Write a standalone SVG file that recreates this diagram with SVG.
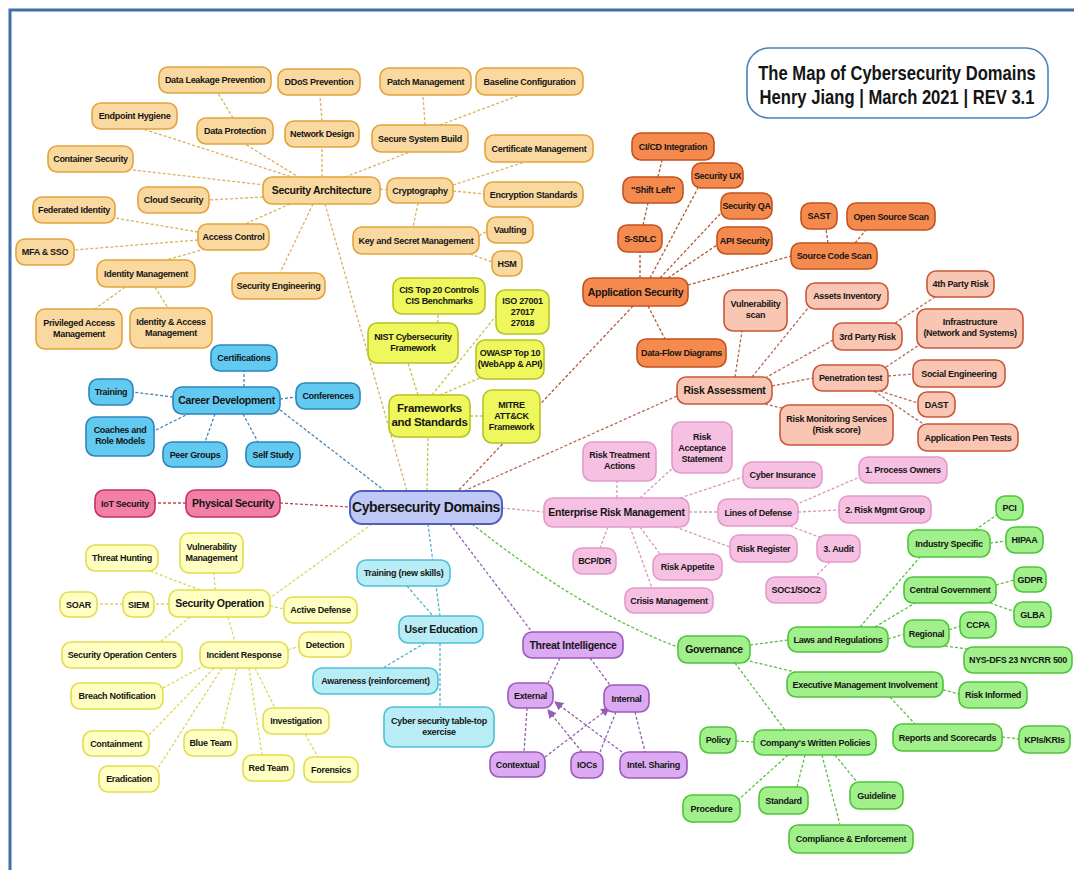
<svg xmlns="http://www.w3.org/2000/svg" width="1074" height="870" viewBox="0 0 1074 870">
<defs>
<style>
rect{rx:9px;ry:9px;stroke-width:1.6}
text{font-family:"Liberation Sans",Arial,sans-serif;font-weight:bold;font-size:9px;letter-spacing:-0.3px;fill:#151515;text-anchor:middle}
.big text{font-size:10.5px}
.sa rect{fill:#FAD9A1;stroke:#E2A43C}
.as rect{fill:#F58A4F;stroke:#C4521F}
.ra rect{fill:#F9C6B3;stroke:#C9573B}
.erm rect{fill:#F6C0E2;stroke:#E39AC9}
.gov rect{fill:#A2F08C;stroke:#4EC43A}
.ti rect{fill:#DCAAF2;stroke:#9A5AB8}
.ue rect{fill:#B8EDF6;stroke:#4DBFD8}
.so rect{fill:#FFFFC4;stroke:#E3DD4C}
.fw rect{fill:#EEF75C;stroke:#B9C224}
.cd rect{fill:#62C9F1;stroke:#2A86BE}
.ps rect{fill:#F27FA5;stroke:#C2345E}
.core rect{fill:#C0C9F6;stroke:#4E5FC0;stroke-width:2}
#connectors line,#connectors path{fill:none;stroke-width:1.3;stroke-dasharray:3 2}
.c-sa{stroke:#D9B35E}.c-as{stroke:#B35A34}.c-ra{stroke:#B86A5A}.c-erm{stroke:#D49ABF}
.c-gov{stroke:#5CC040}.c-ti{stroke:#9460B4}.c-ue{stroke:#52B2CA}.c-so{stroke:#DCD65A}
.c-fw{stroke:#BEC846}.c-cd{stroke:#4A86B4}.c-ps{stroke:#C04848}
.ttl{font-size:16.6px;letter-spacing:0}
</style>
<marker id="arr" viewBox="0 0 8 8" refX="7" refY="4" markerWidth="7" markerHeight="7" orient="auto"><path d="M0,0 L8,4 L0,8 z" fill="#9460B4"/></marker>
</defs>
<rect x="0" y="0" width="1074" height="870" fill="#ffffff" style="rx:0;ry:0"/>
<path d="M10,870 V10 H1074" fill="none" stroke="#3E6FA8" stroke-width="3"/>

<g id="title"><rect x="747" y="48" width="301" height="70" style="rx:22px;ry:22px;fill:#fff;stroke:#4A7FC0;stroke-width:1.6"/>
<text class="ttl" transform="translate(897,80) scale(1,1.2)" x="0" y="0">The Map of Cybersecurity Domains</text>
<text class="ttl" transform="translate(897,104) scale(1,1.2)" x="0" y="0">Henry Jiang | March 2021 | REV 3.1</text></g>

<g id="connectors">
<!-- security architecture -->
<line class="c-sa" x1="300" y1="178" x2="245" y2="144"/>
<line class="c-sa" x1="233" y1="118" x2="218" y2="93"/>
<line class="c-sa" x1="322" y1="177" x2="322" y2="147"/>
<line class="c-sa" x1="322" y1="121" x2="320" y2="96"/>
<line class="c-sa" x1="295" y1="178" x2="143" y2="129"/>
<line class="c-sa" x1="265" y1="185" x2="133" y2="170"/>
<line class="c-sa" x1="263" y1="197" x2="209" y2="200"/>
<line class="c-sa" x1="290" y1="204" x2="245" y2="224"/>
<line class="c-sa" x1="198" y1="232" x2="115" y2="218"/>
<line class="c-sa" x1="198" y1="240" x2="74" y2="250"/>
<line class="c-sa" x1="205" y1="249" x2="163" y2="261"/>
<line class="c-sa" x1="125" y1="287" x2="95" y2="309"/>
<line class="c-sa" x1="155" y1="287" x2="168" y2="308"/>
<line class="c-sa" x1="313" y1="204" x2="280" y2="273"/>
<line class="c-sa" x1="325" y1="204" x2="407" y2="491"/>
<line class="c-sa" x1="380" y1="189" x2="387" y2="190"/>
<line class="c-sa" x1="345" y1="177" x2="410" y2="152"/>
<line class="c-sa" x1="425" y1="125" x2="423" y2="95"/>
<line class="c-sa" x1="440" y1="125" x2="520" y2="95"/>
<line class="c-sa" x1="453" y1="185" x2="525" y2="162"/>
<line class="c-sa" x1="453" y1="191" x2="484" y2="194"/>
<line class="c-sa" x1="418" y1="203" x2="413" y2="227"/>
<line class="c-sa" x1="479" y1="236" x2="487" y2="231"/>
<line class="c-sa" x1="470" y1="254" x2="492" y2="262"/>
<!-- application security -->
<line class="c-as" x1="640" y1="278" x2="640" y2="252"/>
<line class="c-as" x1="643" y1="225" x2="648" y2="203"/>
<line class="c-as" x1="658" y1="177" x2="662" y2="160"/>
<line class="c-as" x1="650" y1="278" x2="698" y2="188"/>
<line class="c-as" x1="660" y1="278" x2="721" y2="213"/>
<line class="c-as" x1="668" y1="278" x2="717" y2="245"/>
<line class="c-as" x1="688" y1="285" x2="791" y2="256"/>
<line class="c-as" x1="828" y1="243" x2="826" y2="229"/>
<line class="c-as" x1="855" y1="243" x2="866" y2="230"/>
<line class="c-as" x1="648" y1="306" x2="665" y2="339"/>
<line class="c-as" x1="633" y1="306" x2="458" y2="491"/>
<!-- risk assessment -->
<line class="c-ra" x1="464" y1="491" x2="677" y2="396"/>
<line class="c-ra" x1="735" y1="377" x2="742" y2="331"/>
<line class="c-ra" x1="752" y1="377" x2="808" y2="308"/>
<line class="c-ra" x1="765" y1="378" x2="833" y2="340"/>
<line class="c-ra" x1="772" y1="386" x2="813" y2="378"/>
<line class="c-ra" x1="765" y1="404" x2="790" y2="410"/>
<line class="c-ra" x1="895" y1="323" x2="935" y2="297"/>
<line class="c-ra" x1="886" y1="367" x2="922" y2="343"/>
<line class="c-ra" x1="888" y1="376" x2="913" y2="374"/>
<line class="c-ra" x1="880" y1="391" x2="918" y2="403"/>
<line class="c-ra" x1="874" y1="391" x2="925" y2="425"/>
<!-- enterprise risk management -->
<line class="c-erm" x1="502" y1="508" x2="544" y2="512"/>
<line class="c-erm" x1="617" y1="498" x2="617" y2="481"/>
<line class="c-erm" x1="640" y1="498" x2="676" y2="465"/>
<line class="c-erm" x1="680" y1="498" x2="743" y2="477"/>
<line class="c-erm" x1="689" y1="512" x2="718" y2="512"/>
<line class="c-erm" x1="675" y1="527" x2="730" y2="547"/>
<line class="c-erm" x1="608" y1="527" x2="600" y2="548"/>
<line class="c-erm" x1="640" y1="527" x2="660" y2="554"/>
<line class="c-erm" x1="630" y1="527" x2="652" y2="588"/>
<line class="c-erm" x1="795" y1="505" x2="862" y2="476"/>
<line class="c-erm" x1="798" y1="512" x2="839" y2="510"/>
<line class="c-erm" x1="790" y1="526" x2="822" y2="538"/>
<line class="c-erm" x1="830" y1="562" x2="815" y2="577"/>
<!-- governance -->
<path class="c-gov" d="M472,524 Q580,610 680,648"/>
<line class="c-gov" x1="750" y1="645" x2="788" y2="640"/>
<line class="c-gov" x1="745" y1="660" x2="795" y2="672"/>
<line class="c-gov" x1="735" y1="663" x2="785" y2="730"/>
<line class="c-gov" x1="860" y1="627" x2="920" y2="557"/>
<line class="c-gov" x1="875" y1="627" x2="915" y2="603"/>
<line class="c-gov" x1="888" y1="639" x2="904" y2="634"/>
<line class="c-gov" x1="949" y1="630" x2="960" y2="626"/>
<line class="c-gov" x1="945" y1="646" x2="975" y2="650"/>
<line class="c-gov" x1="996" y1="585" x2="1014" y2="580"/>
<line class="c-gov" x1="990" y1="603" x2="1016" y2="612"/>
<line class="c-gov" x1="975" y1="530" x2="998" y2="514"/>
<line class="c-gov" x1="990" y1="543" x2="1006" y2="541"/>
<line class="c-gov" x1="943" y1="690" x2="959" y2="694"/>
<line class="c-gov" x1="890" y1="697" x2="915" y2="724"/>
<line class="c-gov" x1="1002" y1="737" x2="1019" y2="739"/>
<line class="c-gov" x1="754" y1="742" x2="736" y2="741"/>
<line class="c-gov" x1="788" y1="755" x2="738" y2="800"/>
<line class="c-gov" x1="805" y1="755" x2="797" y2="787"/>
<line class="c-gov" x1="822" y1="755" x2="840" y2="825"/>
<line class="c-gov" x1="835" y1="755" x2="857" y2="782"/>
<!-- threat intelligence -->
<line class="c-ti" x1="450" y1="524" x2="532" y2="632"/>
<line class="c-ti" x1="560" y1="658" x2="548" y2="683"/>
<line class="c-ti" x1="590" y1="658" x2="610" y2="685"/>
<line class="c-ti" x1="527" y1="708" x2="524" y2="752"/>
<line class="c-ti" x1="616" y1="712" x2="600" y2="752"/>
<line class="c-ti" x1="635" y1="712" x2="645" y2="752"/>
<line class="c-ti" x1="545" y1="757" x2="609" y2="708" marker-end="url(#arr)"/>
<line class="c-ti" x1="582" y1="752" x2="548" y2="710" marker-end="url(#arr)"/>
<line class="c-ti" x1="626" y1="755" x2="555" y2="702" marker-end="url(#arr)"/>
<!-- user education -->
<line class="c-ue" x1="428" y1="524" x2="440" y2="616"/>
<line class="c-ue" x1="407" y1="586" x2="433" y2="616"/>
<line class="c-ue" x1="425" y1="643" x2="383" y2="668"/>
<line class="c-ue" x1="440" y1="643" x2="440" y2="707"/>
<!-- security operation -->
<line class="c-so" x1="372" y1="524" x2="270" y2="598"/>
<line class="c-so" x1="200" y1="590" x2="150" y2="571"/>
<line class="c-so" x1="215" y1="590" x2="214" y2="573"/>
<line class="c-so" x1="169" y1="604" x2="154" y2="604"/>
<line class="c-so" x1="123" y1="604" x2="97" y2="604"/>
<line class="c-so" x1="270" y1="606" x2="284" y2="609"/>
<line class="c-so" x1="190" y1="617" x2="160" y2="642"/>
<line class="c-so" x1="228" y1="617" x2="235" y2="642"/>
<line class="c-so" x1="288" y1="650" x2="299" y2="646"/>
<line class="c-so" x1="205" y1="665" x2="163" y2="688"/>
<line class="c-so" x1="214" y1="668" x2="149" y2="735"/>
<line class="c-so" x1="222" y1="668" x2="158" y2="768"/>
<line class="c-so" x1="237" y1="668" x2="222" y2="730"/>
<line class="c-so" x1="249" y1="668" x2="262" y2="755"/>
<line class="c-so" x1="255" y1="668" x2="275" y2="708"/>
<line class="c-so" x1="305" y1="734" x2="318" y2="757"/>
<!-- frameworks -->
<line class="c-fw" x1="427" y1="491" x2="428" y2="437"/>
<line class="c-fw" x1="418" y1="395" x2="408" y2="363"/>
<line class="c-fw" x1="432" y1="395" x2="496" y2="316"/>
<line class="c-fw" x1="440" y1="395" x2="480" y2="378"/>
<line class="c-fw" x1="470" y1="416" x2="483" y2="416"/>
<line class="c-fw" x1="438" y1="323" x2="438" y2="314"/>
<!-- career development -->
<line class="c-cd" x1="244" y1="387" x2="244" y2="371"/>
<line class="c-cd" x1="173" y1="397" x2="133" y2="392"/>
<line class="c-cd" x1="280" y1="399" x2="296" y2="397"/>
<line class="c-cd" x1="190" y1="413" x2="154" y2="431"/>
<line class="c-cd" x1="215" y1="414" x2="205" y2="442"/>
<line class="c-cd" x1="243" y1="414" x2="258" y2="442"/>
<line class="c-cd" x1="280" y1="410" x2="385" y2="491"/>
<!-- physical security -->
<line class="c-ps" x1="186" y1="503" x2="155" y2="503"/>
<line class="c-ps" x1="280" y1="503" x2="350" y2="507"/>
</g>

<g id="core" class="core"><rect x="350" y="491" width="152" height="33" style="rx:12px;ry:12px"/><text x="426" y="512" style="font-size:14px;letter-spacing:-0.4px">Cybersecurity Domains</text></g>

<!-- Security Architecture branch -->
<g id="n-sa" class="sa big"><rect x="263" y="177" width="117" height="27"/><text x="321.5" y="194">Security Architecture</text></g>
<g id="n-dlp" class="sa"><rect x="159" y="67" width="112" height="26"/><text x="215" y="83">Data Leakage Prevention</text></g>
<g id="n-ddos" class="sa"><rect x="278" y="69" width="82" height="26"/><text x="319" y="85">DDoS Prevention</text></g>
<g id="n-endpoint" class="sa"><rect x="92" y="103" width="85" height="26"/><text x="134.5" y="119">Endpoint Hygiene</text></g>
<g id="n-dataprot" class="sa"><rect x="197" y="118" width="76" height="26"/><text x="235" y="134">Data Protection</text></g>
<g id="n-netdesign" class="sa"><rect x="285" y="121" width="74" height="26"/><text x="322" y="137">Network Design</text></g>
<g id="n-container" class="sa"><rect x="48" y="146" width="85" height="26"/><text x="90.5" y="162">Container Security</text></g>
<g id="n-cloud" class="sa"><rect x="138" y="187" width="71" height="26"/><text x="173.5" y="203">Cloud Security</text></g>
<g id="n-federated" class="sa"><rect x="33" y="197" width="82" height="26"/><text x="74" y="213">Federated Identity</text></g>
<g id="n-access" class="sa"><rect x="198" y="224" width="71" height="26"/><text x="233.5" y="240">Access Control</text></g>
<g id="n-mfa" class="sa"><rect x="16" y="239" width="58" height="26"/><text x="45" y="255">MFA &amp; SSO</text></g>
<g id="n-idm" class="sa"><rect x="97" y="260" width="98" height="27"/><text x="146" y="277">Identity Management</text></g>
<g id="n-seceng" class="sa"><rect x="232" y="273" width="93" height="26"/><text x="278.5" y="289">Security Engineering</text></g>
<g id="n-pam" class="sa"><rect x="36" y="309" width="86" height="40"/><text x="79" y="326">Privileged Access<tspan x="79" dy="11">Management</tspan></text></g>
<g id="n-iam" class="sa"><rect x="130" y="308" width="82" height="40"/><text x="171" y="325">Identity &amp; Access<tspan x="171" dy="11">Management</tspan></text></g>
<g id="n-patch" class="sa"><rect x="380" y="68" width="91" height="27"/><text x="425.5" y="85">Patch Management</text></g>
<g id="n-baseline" class="sa"><rect x="476" y="68" width="107" height="27"/><text x="529.5" y="85">Baseline Configuration</text></g>
<g id="n-ssb" class="sa"><rect x="372" y="125" width="96" height="27"/><text x="420" y="142">Secure System Build</text></g>
<g id="n-cert" class="sa"><rect x="485" y="135" width="108" height="27"/><text x="539" y="152">Certificate Management</text></g>
<g id="n-crypto" class="sa"><rect x="387" y="178" width="66" height="25"/><text x="420" y="194">Cryptography</text></g>
<g id="n-enc" class="sa"><rect x="484" y="182" width="99" height="25"/><text x="533.5" y="198">Encryption Standards</text></g>
<g id="n-vault" class="sa"><rect x="487" y="217" width="46" height="26"/><text x="510" y="233">Vaulting</text></g>
<g id="n-ksm" class="sa"><rect x="353" y="227" width="126" height="27"/><text x="416" y="244">Key and Secret Management</text></g>
<g id="n-hsm" class="sa"><rect x="492" y="251" width="30" height="25"/><text x="507" y="267">HSM</text></g>

<!-- Application Security branch -->
<g id="n-appsec" class="as big"><rect x="583" y="278" width="105" height="28"/><text x="635.5" y="296">Application Security</text></g>
<g id="n-cicd" class="as"><rect x="632" y="133" width="82" height="27"/><text x="673" y="150">CI/CD Integration</text></g>
<g id="n-secux" class="as"><rect x="692" y="163" width="51" height="25"/><text x="717.5" y="179">Security UX</text></g>
<g id="n-shift" class="as"><rect x="623" y="177" width="60" height="26"/><text x="653" y="193">"Shift Left"</text></g>
<g id="n-secqa" class="as"><rect x="721" y="193" width="51" height="26"/><text x="746.5" y="209">Security QA</text></g>
<g id="n-ssdlc" class="as"><rect x="618" y="225" width="44" height="27"/><text x="640" y="242">S-SDLC</text></g>
<g id="n-api" class="as"><rect x="717" y="227" width="55" height="27"/><text x="744.5" y="244">API Security</text></g>
<g id="n-sast" class="as"><rect x="801" y="203" width="36" height="26"/><text x="819" y="219">SAST</text></g>
<g id="n-oss" class="as"><rect x="847" y="203" width="88" height="27"/><text x="891" y="220">Open Source Scan</text></g>
<g id="n-scs" class="as"><rect x="791" y="243" width="86" height="26"/><text x="834" y="259">Source Code Scan</text></g>
<g id="n-dfd" class="as"><rect x="637" y="339" width="89" height="28"/><text x="681.5" y="356">Data-Flow Diagrams</text></g>

<!-- Risk Assessment branch -->
<g id="n-ra" class="ra big"><rect x="677" y="377" width="95" height="27"/><text x="724.5" y="394">Risk Assessment</text></g>
<g id="n-vscan" class="ra"><rect x="724" y="290" width="63" height="41"/><text x="755.5" y="307">Vulnerability<tspan x="755.5" dy="11">scan</tspan></text></g>
<g id="n-assets" class="ra"><rect x="806" y="283" width="82" height="26"/><text x="847" y="299">Assets Inventory</text></g>
<g id="n-4th" class="ra"><rect x="927" y="271" width="67" height="26"/><text x="960.5" y="287">4th Party Risk</text></g>
<g id="n-3rd" class="ra"><rect x="833" y="323" width="69" height="27"/><text x="867.5" y="340">3rd Party Risk</text></g>
<g id="n-infra" class="ra"><rect x="917" y="309" width="106" height="39"/><text x="970" y="325">Infrastructure<tspan x="970" dy="11">(Network and Systems)</tspan></text></g>
<g id="n-pentest" class="ra"><rect x="813" y="365" width="75" height="26"/><text x="850.5" y="381">Penetration test</text></g>
<g id="n-social" class="ra"><rect x="913" y="360" width="92" height="27"/><text x="959" y="377">Social Engineering</text></g>
<g id="n-dast" class="ra"><rect x="918" y="392" width="37" height="25"/><text x="936.5" y="408">DAST</text></g>
<g id="n-rms" class="ra"><rect x="780" y="405" width="113" height="40"/><text x="836.5" y="422">Risk Monitoring Services<tspan x="836.5" dy="11">(Risk score)</tspan></text></g>
<g id="n-apt" class="ra"><rect x="918" y="424" width="100" height="27"/><text x="968" y="441">Application Pen Tests</text></g>

<!-- Enterprise Risk Management branch -->
<g id="n-erm" class="erm big"><rect x="544" y="498" width="145" height="29"/><text x="616.5" y="516">Enterprise Risk Management</text></g>
<g id="n-rta" class="erm"><rect x="583" y="442" width="73" height="39"/><text x="619.5" y="458">Risk Treatment<tspan x="619.5" dy="11">Actions</tspan></text></g>
<g id="n-ras" class="erm"><rect x="672" y="422" width="60" height="51"/><text x="702" y="439.5">Risk<tspan x="702" dy="11">Acceptance</tspan><tspan x="702" dy="11">Statement</tspan></text></g>
<g id="n-cyberins" class="erm"><rect x="743" y="462" width="79" height="26"/><text x="782.5" y="478">Cyber Insurance</text></g>
<g id="n-lod" class="erm"><rect x="718" y="499" width="80" height="27"/><text x="758" y="516">Lines of Defense</text></g>
<g id="n-bcp" class="erm"><rect x="573" y="548" width="43" height="26"/><text x="594.5" y="564">BCP/DR</text></g>
<g id="n-rr" class="erm"><rect x="730" y="535" width="67" height="27"/><text x="763.5" y="552">Risk Register</text></g>
<g id="n-audit" class="erm"><rect x="817" y="535" width="43" height="27"/><text x="838.5" y="552">3. Audit</text></g>
<g id="n-appetite" class="erm"><rect x="653" y="554" width="69" height="26"/><text x="687.5" y="570">Risk Appetite</text></g>
<g id="n-soc12" class="erm"><rect x="766" y="577" width="60" height="26"/><text x="796" y="593">SOC1/SOC2</text></g>
<g id="n-crisis" class="erm"><rect x="625" y="588" width="88" height="25"/><text x="669" y="604">Crisis Management</text></g>
<g id="n-po" class="erm"><rect x="859" y="457" width="88" height="26"/><text x="903" y="473">1. Process Owners</text></g>
<g id="n-rmg" class="erm"><rect x="839" y="496" width="92" height="27"/><text x="885" y="513">2. Risk Mgmt Group</text></g>

<!-- Governance branch -->
<g id="n-gov" class="gov big"><rect x="678" y="636" width="72" height="27"/><text x="714" y="653">Governance</text></g>
<g id="n-laws" class="gov"><rect x="788" y="627" width="100" height="25"/><text x="838" y="643">Laws and Regulations</text></g>
<g id="n-industry" class="gov"><rect x="908" y="530" width="82" height="27"/><text x="949" y="547">Industry Specific</text></g>
<g id="n-pci" class="gov"><rect x="996" y="496" width="27" height="24"/><text x="1009.5" y="511">PCI</text></g>
<g id="n-hipaa" class="gov"><rect x="1006" y="527" width="37" height="26"/><text x="1024.5" y="543">HIPAA</text></g>
<g id="n-central" class="gov"><rect x="904" y="577" width="92" height="26"/><text x="950" y="593">Central Government</text></g>
<g id="n-gdpr" class="gov"><rect x="1014" y="567" width="32" height="25"/><text x="1030" y="583">GDPR</text></g>
<g id="n-glba" class="gov"><rect x="1014" y="602" width="37" height="25"/><text x="1032.5" y="618">GLBA</text></g>
<g id="n-regional" class="gov"><rect x="904" y="620" width="45" height="27"/><text x="926.5" y="637">Regional</text></g>
<g id="n-ccpa" class="gov"><rect x="960" y="612" width="36" height="26"/><text x="978" y="628">CCPA</text></g>
<g id="n-nys" class="gov"><rect x="964" y="647" width="108" height="26"/><text x="1018" y="663">NYS-DFS 23 NYCRR 500</text></g>
<g id="n-exec" class="gov"><rect x="787" y="672" width="156" height="25"/><text x="865" y="688">Executive Management Involvement</text></g>
<g id="n-riskinf" class="gov"><rect x="959" y="682" width="68" height="26"/><text x="993" y="698">Risk Informed</text></g>
<g id="n-reports" class="gov"><rect x="893" y="724" width="109" height="27"/><text x="947.5" y="741">Reports and Scorecards</text></g>
<g id="n-kpis" class="gov"><rect x="1019" y="726" width="51" height="27"/><text x="1044.5" y="743">KPIs/KRIs</text></g>
<g id="n-cwp" class="gov"><rect x="754" y="730" width="122" height="25"/><text x="815" y="746">Company's Written Policies</text></g>
<g id="n-policy" class="gov"><rect x="700" y="727" width="36" height="26"/><text x="718" y="743">Policy</text></g>
<g id="n-procedure" class="gov"><rect x="683" y="795" width="57" height="27"/><text x="711.5" y="812">Procedure</text></g>
<g id="n-standard" class="gov"><rect x="759" y="787" width="49" height="27"/><text x="783.5" y="804">Standard</text></g>
<g id="n-guideline" class="gov"><rect x="850" y="782" width="53" height="27"/><text x="876.5" y="799">Guideline</text></g>
<g id="n-compliance" class="gov"><rect x="789" y="825" width="124" height="28"/><text x="851" y="842">Compliance &amp; Enforcement</text></g>

<!-- Threat Intelligence branch -->
<g id="n-ti" class="ti big"><rect x="523" y="632" width="100" height="26"/><text x="573" y="649">Threat Intelligence</text></g>
<g id="n-external" class="ti"><rect x="508" y="683" width="45" height="25"/><text x="530.5" y="699">External</text></g>
<g id="n-internal" class="ti"><rect x="604" y="685" width="45" height="27"/><text x="626.5" y="702">Internal</text></g>
<g id="n-contextual" class="ti"><rect x="490" y="752" width="55" height="25"/><text x="517.5" y="768">Contextual</text></g>
<g id="n-iocs" class="ti"><rect x="571" y="752" width="32" height="26"/><text x="587" y="768">IOCs</text></g>
<g id="n-intel" class="ti"><rect x="620" y="752" width="67" height="26"/><text x="653.5" y="768">Intel. Sharing</text></g>

<!-- User Education branch -->
<g id="n-ue" class="ue big"><rect x="399" y="616" width="84" height="27"/><text x="441" y="633">User Education</text></g>
<g id="n-trainnew" class="ue"><rect x="357" y="560" width="93" height="26"/><text x="403.5" y="576">Training (new skills)</text></g>
<g id="n-awareness" class="ue"><rect x="313" y="668" width="125" height="26"/><text x="375.5" y="684">Awareness (reinforcement)</text></g>
<g id="n-tabletop" class="ue"><rect x="384" y="707" width="110" height="40"/><text x="439" y="724">Cyber security table-top<tspan x="439" dy="11">exercise</tspan></text></g>

<!-- Security Operation branch -->
<g id="n-so" class="so big"><rect x="169" y="590" width="101" height="27"/><text x="219.5" y="607">Security Operation</text></g>
<g id="n-hunting" class="so"><rect x="86" y="545" width="72" height="26"/><text x="122" y="561">Threat Hunting</text></g>
<g id="n-vulnmgmt" class="so"><rect x="180" y="533" width="63" height="40"/><text x="211.5" y="550">Vulnerability<tspan x="211.5" dy="11">Management</tspan></text></g>
<g id="n-soar" class="so"><rect x="60" y="592" width="37" height="25"/><text x="78.5" y="608">SOAR</text></g>
<g id="n-siem" class="so"><rect x="123" y="592" width="31" height="25"/><text x="138.5" y="608">SIEM</text></g>
<g id="n-active" class="so"><rect x="284" y="597" width="73" height="26"/><text x="320.5" y="613">Active Defense</text></g>
<g id="n-detection" class="so"><rect x="299" y="632" width="52" height="25"/><text x="325" y="648">Detection</text></g>
<g id="n-socc" class="so"><rect x="62" y="642" width="120" height="26"/><text x="122" y="658">Security Operation Centers</text></g>
<g id="n-ir" class="so"><rect x="200" y="642" width="88" height="26"/><text x="244" y="658">Incident Response</text></g>
<g id="n-breach" class="so"><rect x="71" y="683" width="92" height="26"/><text x="117" y="699">Breach Notification</text></g>
<g id="n-invest" class="so"><rect x="263" y="708" width="66" height="26"/><text x="296" y="724">Investigation</text></g>
<g id="n-contain" class="so"><rect x="83" y="731" width="66" height="25"/><text x="116" y="747">Containment</text></g>
<g id="n-blue" class="so"><rect x="184" y="730" width="53" height="26"/><text x="210.5" y="746">Blue Team</text></g>
<g id="n-red" class="so"><rect x="243" y="755" width="51" height="26"/><text x="268.5" y="771">Red Team</text></g>
<g id="n-forensics" class="so"><rect x="304" y="757" width="54" height="25"/><text x="331" y="773">Forensics</text></g>
<g id="n-erad" class="so"><rect x="99" y="766" width="60" height="26"/><text x="129" y="782">Eradication</text></g>

<!-- Frameworks branch -->
<g id="n-fw" class="fw"><rect x="389" y="395" width="81" height="42"/><text x="429.5" y="412" style="font-size:11.5px">Frameworks<tspan x="429.5" dy="14">and Standards</tspan></text></g>
<g id="n-cis" class="fw"><rect x="393" y="278" width="92" height="36"/><text x="439" y="293">CIS Top 20 Controls<tspan x="439" dy="11">CIS Benchmarks</tspan></text></g>
<g id="n-iso" class="fw"><rect x="496" y="290" width="53" height="44"/><text x="522.5" y="304">ISO 27001<tspan x="522.5" dy="11">27017</tspan><tspan x="522.5" dy="11">27018</tspan></text></g>
<g id="n-nist" class="fw"><rect x="368" y="323" width="90" height="40"/><text x="413" y="340">NIST Cybersecurity<tspan x="413" dy="11">Framework</tspan></text></g>
<g id="n-owasp" class="fw"><rect x="476" y="340" width="68" height="39"/><text x="510" y="356">OWASP Top 10<tspan x="510" dy="11">(WebApp &amp; API)</tspan></text></g>
<g id="n-mitre" class="fw"><rect x="483" y="390" width="57" height="53"/><text x="511.5" y="408">MITRE<tspan x="511.5" dy="11">ATT&amp;CK</tspan><tspan x="511.5" dy="11">Framework</tspan></text></g>

<!-- Career Development branch -->
<g id="n-cd" class="cd big"><rect x="173" y="387" width="107" height="27"/><text x="226.5" y="404">Career Development</text></g>
<g id="n-certs" class="cd"><rect x="211" y="345" width="66" height="26"/><text x="244" y="361">Certifications</text></g>
<g id="n-training" class="cd"><rect x="89" y="379" width="44" height="26"/><text x="111" y="395">Training</text></g>
<g id="n-conf" class="cd"><rect x="296" y="383" width="64" height="26"/><text x="328" y="399">Conferences</text></g>
<g id="n-coaches" class="cd"><rect x="86" y="417" width="68" height="39"/><text x="120" y="433">Coaches and<tspan x="120" dy="11">Role Models</tspan></text></g>
<g id="n-peer" class="cd"><rect x="163" y="442" width="64" height="25"/><text x="195" y="458">Peer Groups</text></g>
<g id="n-self" class="cd"><rect x="246" y="442" width="54" height="25"/><text x="273" y="458">Self Study</text></g>

<!-- Physical Security branch -->
<g id="n-ps" class="ps big"><rect x="186" y="490" width="94" height="27"/><text x="233" y="507">Physical Security</text></g>
<g id="n-iot" class="ps"><rect x="95" y="490" width="60" height="27"/><text x="125" y="507">IoT Security</text></g>
</svg>
